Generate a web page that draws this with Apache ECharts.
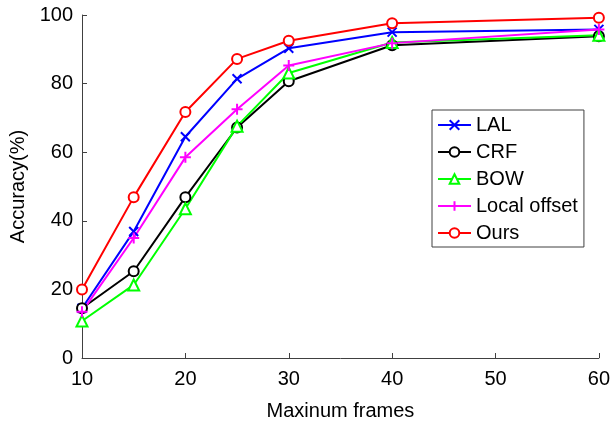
<!DOCTYPE html>
<html>
<head>
<meta charset="utf-8">
<script src="https://cdn.jsdelivr.net/npm/echarts@6/dist/echarts.min.js"></script>
<style>
    html, body { margin: 0; padding: 0; background: #fff; }
    #main { width: 613px; height: 426px; }
</style>
</head>
<body>
<div id="main"></div>
<script>
var frames = [10, 15, 20, 25, 30, 40, 60];
var lal = [14.5, 36.9, 64.5, 81.4, 90.3, 95.0, 95.8];
var crf = [14.5, 25.3, 46.9, 67.2, 80.7, 91.2, 93.8];
var bow = [10.8, 21.3, 43.5, 67.6, 83.1, 92.0, 94.1];
var localOffset = [13.5, 35.0, 58.5, 72.5, 85.3, 91.8, 95.8];
var ours = [20.0, 46.9, 71.7, 87.2, 92.5, 97.6, 99.2];
var xTicks = [10, 20, 30, 40, 50, 60];
var yTicks = [0, 20, 40, 60, 80, 100];

var fontName = 'Liberation Sans';
var axisColor = '#404040';

// 把x和y拼成点
function pts(arr) {
    var res = [];
    for (var i = 0; i < frames.length; ++i) {
        res.push([frames[i], arr[i]]);
    }
    return res;
}

var crossPath = 'path://M0,0L10,10M10,0L0,10';
var plusPath = 'path://M5,0L5,10M0,5L10,5';

function mkSeries(name, arr, color, symbol, size) {
    return {
        name: name,
        type: 'line',
        data: pts(arr),
        symbol: symbol,
        symbolSize: size,
        showAllSymbol: true,
        lineStyle: { color: color, width: 2 },
        itemStyle: { color: '#fff', borderColor: color, borderWidth: 2 },
        emphasis: { disabled: true },
        animation: false
    };
}

var myChart = echarts.init(document.getElementById('main'));

var option = {
    backgroundColor: '#fff',
    textStyle: { fontFamily: fontName },
    grid: { left: 82, right: 11, top: 15, bottom: 65 },
    legend: {
        orient: 'vertical',
        left: 432,
        top: 110,
        itemWidth: 33,
        itemHeight: 12,
        itemGap: 7,
        padding: [5, 6, 4, 5],
        borderColor: axisColor,
        borderWidth: 1,
        textStyle: { fontSize: 20, color: '#000', fontFamily: fontName },
        data: ['LAL', 'CRF', 'BOW', 'Local offset', 'Ours']
    },
    xAxis: {
        type: 'value',
        min: 10,
        max: 60,
        interval: 10,
        name: 'Maxinum frames',
        nameLocation: 'middle',
        nameGap: 43,
        nameTextStyle: { fontSize: 20, color: '#000' },
        axisLine: { lineStyle: { color: axisColor, width: 1 } },
        axisTick: { inside: true, length: 5, lineStyle: { color: axisColor } },
        axisLabel: {
            fontSize: 20, color: '#000', margin: 11,
            formatter: function (v) { return xTicks.indexOf(v) >= 0 ? v : ''; }
        },
        splitLine: { show: false }
    },
    yAxis: {
        type: 'value',
        min: 0,
        max: 100,
        interval: 20,
        name: 'Accuracy(%)',
        nameLocation: 'middle',
        nameGap: 42,
        nameTextStyle: { fontSize: 20, color: '#000' },
        axisLine: { show: true, lineStyle: { color: axisColor, width: 1 } },
        axisTick: { show: true, inside: true, length: 5, lineStyle: { color: axisColor } },
        axisLabel: {
            fontSize: 20, color: '#000', margin: 9,
            formatter: function (v) { return yTicks.indexOf(v) >= 0 ? v : ''; }
        },
        splitLine: { show: false }
    },
    series: [
        mkSeries('LAL', lal, '#0000ff', crossPath, 9),
        mkSeries('CRF', crf, '#000000', 'circle', 10),
        mkSeries('BOW', bow, '#00ff00', 'triangle', 11),
        mkSeries('Local offset', localOffset, '#ff00ff', plusPath, 11),
        mkSeries('Ours', ours, '#ff0000', 'circle', 10)
    ]
};

myChart.setOption(option);
</script>
</body>
</html>
